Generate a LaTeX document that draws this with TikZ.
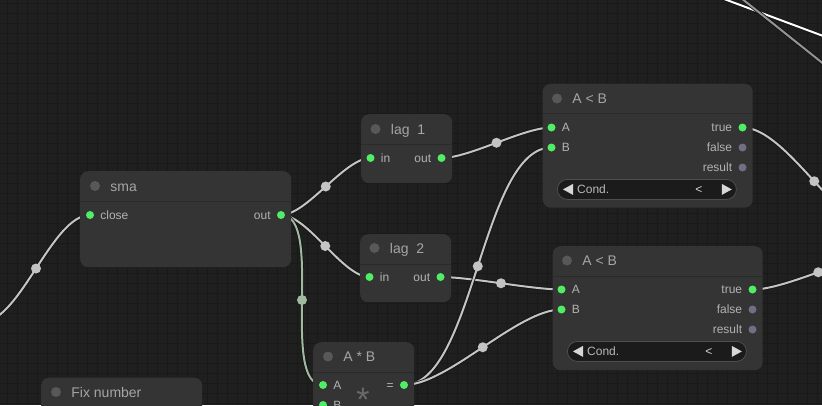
\documentclass[tikz,border=0pt]{standalone}
\usepackage{fontspec}
\setmainfont{Liberation Sans}
\usepackage{xcolor}
\usetikzlibrary{positioning}

\definecolor{bgdark}{RGB}{31,31,31}
\definecolor{gridgrey}{RGB}{25,25,25}
\definecolor{nodebody}{RGB}{52,52,52}
\definecolor{sepgrey}{RGB}{42,42,42}
\definecolor{titledotgrey}{RGB}{88,88,88}
\definecolor{titlegrey}{RGB}{165,165,165}
\definecolor{labelgrey}{RGB}{178,178,178}
\definecolor{portgreen}{RGB}{80,238,100}
\definecolor{portgrey}{RGB}{112,112,132}
\definecolor{pillfill}{RGB}{27,27,27}
\definecolor{pillborder}{RGB}{78,78,78}
\definecolor{widgetgrey}{RGB}{185,185,185}
\definecolor{arrowgrey}{RGB}{215,215,215}
\definecolor{linkgrey}{RGB}{196,196,196}
\definecolor{linkgreen}{RGB}{160,186,160}
\definecolor{linkedge}{RGB}{20,20,20}
\definecolor{opgrey}{RGB}{105,105,105}

\pgfdeclarelayer{grid}
\pgfdeclarelayer{links}
\pgfsetlayers{grid,links,main}

\begin{document}
\begin{tikzpicture}[
    x=1pt, y=-1pt,
    panel/.style={rectangle, rounded corners=8pt, fill=nodebody, anchor=north west, inner sep=0pt},
    titledot/.style={circle, fill=titledotgrey, minimum size=10pt, inner sep=0pt},
    titletext/.style={inner sep=0pt, text=titlegrey, text height=10pt, text depth=0pt, font=\fontsize{14pt}{16pt}\selectfont},
    port/.style={circle, fill=portgreen, minimum size=8pt, inner sep=0pt},
    portoff/.style={port, fill=portgrey},
    portlabel/.style={inner sep=0pt, text=labelgrey, text height=8.6pt, text depth=0pt, font=\fontsize{12pt}{14pt}\selectfont},
    sepline/.style={draw=sepgrey, line width=1pt},
    pill/.style={rectangle, rounded corners=10pt, fill=pillfill, draw=pillborder, line width=0.8pt, anchor=north west, minimum width=179pt, minimum height=20pt, inner sep=0pt},
    widgettext/.style={portlabel, text=widgetgrey},
    widgetarrow/.style={fill=arrowgrey},
    opsign/.style={inner sep=0pt, text=opgrey, anchor=base, font=\fontsize{34pt}{36pt}\selectfont},
    link/.style={draw=linkgrey, line width=2pt, preaction={draw=linkedge, line width=3.6pt}},
    greenlink/.style={link, draw=linkgreen},
    reroute/.style={circle, fill=linkgrey, minimum size=10pt, inner sep=0pt},
    gridline/.style={draw=gridgrey, line width=0.8pt}
  ]
  \useasboundingbox (0,0) rectangle (822,405);

  \begin{pgfonlayer}{grid}
    \fill[bgdark] (0,0) rectangle (822,405);
    \foreach \gx in {7,17,...,817} \draw[gridline] (\gx,0) -- (\gx,405);
    \foreach \gy in {3,13,...,403} \draw[gridline] (0,\gy) -- (822,\gy);
  \end{pgfonlayer}

  % sma
  \node[panel, minimum width=211pt, minimum height=96pt] (sma) at (80,171) {};
  \draw[sepline] ([yshift=-30pt]sma.north west) -- ([yshift=-30pt]sma.north east);
  \node[titledot] (sma-dot) at (95,186) {};
  \node[titletext, right=10pt of sma-dot] (sma-title) {sma};
  \node[port] (sma-close) at (90,215) {};
  \node[portlabel, right=6pt of sma-close] (sma-close-l) {close};
  \node[port] (sma-out) at (281,215) {};
  \node[portlabel, left=6pt of sma-out] (sma-out-l) {out};

  % lag 1
  \node[panel, minimum width=91pt, minimum height=69pt] (lag1) at (361,114) {};
  \draw[sepline] ([yshift=-30pt]lag1.north west) -- ([yshift=-30pt]lag1.north east);
  \node[titledot] (lag1-dot) at (375.5,129) {};
  \node[titletext, right=10pt of lag1-dot] (lag1-title) {lag~~1};
  \node[port] (lag1-in) at (370.5,158) {};
  \node[portlabel, right=6pt of lag1-in] (lag1-in-l) {in};
  \node[port] (lag1-out) at (441.5,158) {};
  \node[portlabel, left=6pt of lag1-out] (lag1-out-l) {out};

  % lag 2
  \node[panel, minimum width=91pt, minimum height=68pt] (lag2) at (360,234) {};
  \draw[sepline] ([yshift=-30pt]lag2.north west) -- ([yshift=-30pt]lag2.north east);
  \node[titledot] (lag2-dot) at (374.5,248) {};
  \node[titletext, right=10pt of lag2-dot] (lag2-title) {lag~~2};
  \node[port] (lag2-in) at (369.5,277) {};
  \node[portlabel, right=6pt of lag2-in] (lag2-in-l) {in};
  \node[port] (lag2-out) at (440.5,277) {};
  \node[portlabel, left=6pt of lag2-out] (lag2-out-l) {out};

  % A < B (upper)
  \node[panel, minimum width=210pt, minimum height=124pt] (cmp1) at (542.5,83.5) {};
  \draw[sepline] ([yshift=-30pt]cmp1.north west) -- ([yshift=-30pt]cmp1.north east);
  \node[titledot] (cmp1-dot) at (557,98.5) {};
  \node[titletext, right=10pt of cmp1-dot] (cmp1-title) {A < B};
  \node[port] (cmp1-a) at (551.5,127.5) {};
  \node[portlabel, right=6pt of cmp1-a] (cmp1-a-l) {A};
  \node[port] (cmp1-b) at (551.5,147.5) {};
  \node[portlabel, right=6pt of cmp1-b] (cmp1-b-l) {B};
  \node[port] (cmp1-true) at (742.5,127.5) {};
  \node[portlabel, left=6pt of cmp1-true] (cmp1-true-l) {true};
  \node[portoff] (cmp1-false) at (742.5,147.5) {};
  \node[portlabel, left=6pt of cmp1-false] (cmp1-false-l) {false};
  \node[portoff] (cmp1-result) at (742.5,167.5) {};
  \node[portlabel, left=6pt of cmp1-result] (cmp1-result-l) {result};
  \node[pill] (cmp1-cond) at (557,179) {};
  \fill[widgetarrow] ([xshift=6pt]cmp1-cond.west) -- ++(10,-5.5) -- ++(0,11) -- cycle;
  \fill[widgetarrow] ([xshift=-5pt]cmp1-cond.east) -- ++(-10,-5.5) -- ++(0,11) -- cycle;
  \node[widgettext, anchor=west] (cmp1-cond-l) at ([xshift=20pt]cmp1-cond.west) {Cond.};
  \node[widgettext, text=arrowgrey] (cmp1-cond-v) at ([xshift=-38pt]cmp1-cond.east) {<};

  % A < B (lower)
  \node[panel, minimum width=210pt, minimum height=124pt] (cmp2) at (552.5,246) {};
  \draw[sepline] ([yshift=-30pt]cmp2.north west) -- ([yshift=-30pt]cmp2.north east);
  \node[titledot] (cmp2-dot) at (567,260.5) {};
  \node[titletext, right=10pt of cmp2-dot] (cmp2-title) {A < B};
  \node[port] (cmp2-a) at (561.5,289.5) {};
  \node[portlabel, right=6pt of cmp2-a] (cmp2-a-l) {A};
  \node[port] (cmp2-b) at (561.5,309.5) {};
  \node[portlabel, right=6pt of cmp2-b] (cmp2-b-l) {B};
  \node[port] (cmp2-true) at (752.5,289.5) {};
  \node[portlabel, left=6pt of cmp2-true] (cmp2-true-l) {true};
  \node[portoff] (cmp2-false) at (752.5,309.5) {};
  \node[portlabel, left=6pt of cmp2-false] (cmp2-false-l) {false};
  \node[portoff] (cmp2-result) at (752.5,329.5) {};
  \node[portlabel, left=6pt of cmp2-result] (cmp2-result-l) {result};
  \node[pill] (cmp2-cond) at (567,341) {};
  \fill[widgetarrow] ([xshift=6pt]cmp2-cond.west) -- ++(10,-5.5) -- ++(0,11) -- cycle;
  \fill[widgetarrow] ([xshift=-5pt]cmp2-cond.east) -- ++(-10,-5.5) -- ++(0,11) -- cycle;
  \node[widgettext, anchor=west] (cmp2-cond-l) at ([xshift=20pt]cmp2-cond.west) {Cond.};
  \node[widgettext, text=arrowgrey] (cmp2-cond-v) at ([xshift=-38pt]cmp2-cond.east) {<};

  % A * B
  \node[panel, minimum width=101pt, minimum height=90pt] (mul) at (313,342) {};
  \draw[sepline] ([yshift=-30pt]mul.north west) -- ([yshift=-30pt]mul.north east);
  \node[titledot] (mul-dot) at (328,356.5) {};
  \node[titletext, right=10pt of mul-dot] (mul-title) {A * B};
  \node[port] (mul-a) at (323,385) {};
  \node[portlabel, right=6pt of mul-a] (mul-a-l) {A};
  \node[port] (mul-b) at (323,405) {};
  \node[portlabel, right=6pt of mul-b] (mul-b-l) {B};
  \node[port] (mul-out) at (404,385) {};
  \node[portlabel, left=6pt of mul-out] (mul-out-l) {=};
  \node[opsign] (mul-op) at (363,411) {*};

  % Fix number
  \node[panel, minimum width=161pt, minimum height=80pt] (fix) at (41,377.5) {};
  \node[titledot] (fix-dot) at (56,392) {};
  \node[titletext, right=10pt of fix-dot] (fix-title) {Fix number};

  \coordinate (off-left) at (-18,322);
  \coordinate (off-right1) at (886,235);
  \coordinate (off-right2) at (884,255);
  \coordinate (off-top1a) at (700,-10);
  \coordinate (off-top1b) at (850,46);
  \coordinate (off-top2a) at (731,-10);
  \coordinate (off-top2b) at (840,77);

  \begin{pgfonlayer}{links}
    \draw[link] (off-left) .. controls +(38,0) and +(-38,0) .. node[reroute] (via-close) {} (sma-close.center);
    \draw[link] (sma-out.center) .. controls +(26,0) and +(-26,0) .. node[reroute] (via-lag1) {} (lag1-in.center);
    \draw[link] (sma-out.center) .. controls +(27,0) and +(-27,0) .. node[reroute] (via-lag2) {} (lag2-in.center);
    \draw[greenlink] (sma-out.center) .. controls +(44,0) and +(-44,0) .. node[reroute, fill=linkgreen] (via-mul) {} (mul-a.center);
    \draw[link] (lag1-out.center) .. controls +(28,0) and +(-28,0) .. node[reroute] (via-cmp1a) {} (cmp1-a.center);
    \draw[link] (lag2-out.center) .. controls +(30,0) and +(-30,0) .. node[reroute] (via-cmp2a) {} (cmp2-a.center);
    \draw[link] (mul-out.center) .. controls +(70,0) and +(-70,0) .. node[reroute] (via-cmp1b) {} (cmp1-b.center);
    \draw[link] (mul-out.center) .. controls +(44,0) and +(-44,0) .. node[reroute] (via-cmp2b) {} (cmp2-b.center);
    \draw[link] (cmp1-true.center) .. controls +(45,0) and +(-45,0) .. node[reroute] (via-right1) {} (off-right1);
    \draw[link] (cmp2-true.center) .. controls +(34,0) and +(-34,0) .. node[reroute] (via-right2) {} (off-right2);
    \draw[link, draw=white] (off-top1a) -- (off-top1b);
    \draw[link, draw=linkgrey!75!black] (off-top2a) -- (off-top2b);
  \end{pgfonlayer}
\end{tikzpicture}
\end{document}
